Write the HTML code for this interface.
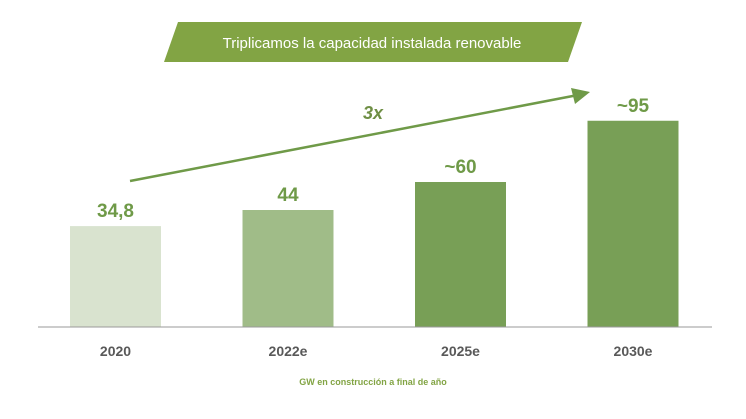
<!DOCTYPE html>
<html><head><meta charset="utf-8"><style>
html,body{margin:0;padding:0;background:#fff;}
svg{display:block;font-family:"Liberation Sans",sans-serif;}
</style></head><body>
<svg id="chart" width="746" height="419" viewBox="0 0 746 419">
  <polygon points="178,22 582,22 568,62 164,62" fill="#82a444"/>
  <text x="372" y="48" text-anchor="middle" font-size="15" fill="#fff">Triplicamos la capacidad instalada renovable</text>
  <line x1="130" y1="181" x2="578" y2="95" stroke="#6f9a48" stroke-width="2.5"/>
  <polygon points="590,92 571,88 575,104" fill="#6f9a48"/>
  <text x="373" y="119" text-anchor="middle" font-size="18" font-weight="bold" font-style="italic" fill="#6f8f45">3x</text>
  <g id="bars"></g>
  <line x1="38" y1="327" x2="712" y2="327" stroke="#9a9a9a" stroke-width="1"/>
  <text x="373" y="385" text-anchor="middle" font-size="9" font-weight="bold" fill="#82a444">GW en construcción a final de año</text>
</svg>
<script>
const categories = ["2020","2022e","2025e","2030e"];
const values = [34.8, 44, 60, 95];
const valueLabels = ["34,8","44","~60","~95"];
const barColors = ["#d9e3cf","#a0bc88","#789f56","#789f56"];
const baseY = 327;
function yScale(v){ return baseY - (40 + 1.75*v); }
function xScale(i){ return 70 + i*172.5; }
const barW = 91;
const g = document.getElementById('bars');
const NS = "http://www.w3.org/2000/svg";
categories.forEach((c,i)=>{
  const x = xScale(i), y = yScale(values[i]);
  const r = document.createElementNS(NS,'rect');
  r.setAttribute('x',x); r.setAttribute('y',y); r.setAttribute('width',barW); r.setAttribute('height',baseY-y);
  r.setAttribute('fill',barColors[i]);
  
  
  g.appendChild(r);
  const t = document.createElementNS(NS,'text');
  t.setAttribute('x',x+barW/2); t.setAttribute('y',y-9); t.setAttribute('text-anchor','middle');
  t.setAttribute('font-size','19'); t.setAttribute('font-weight','bold'); t.setAttribute('fill','#6f9a48');
  t.textContent = valueLabels[i];
  
  
  g.appendChild(t);
  const l = document.createElementNS(NS,'text');
  l.setAttribute('x',x+barW/2); l.setAttribute('y',356); l.setAttribute('text-anchor','middle');
  l.setAttribute('font-size','14'); l.setAttribute('font-weight','bold'); l.setAttribute('fill','#595959');
  l.textContent = c;
  
  
  g.appendChild(l);
});
</script>
</body></html>
